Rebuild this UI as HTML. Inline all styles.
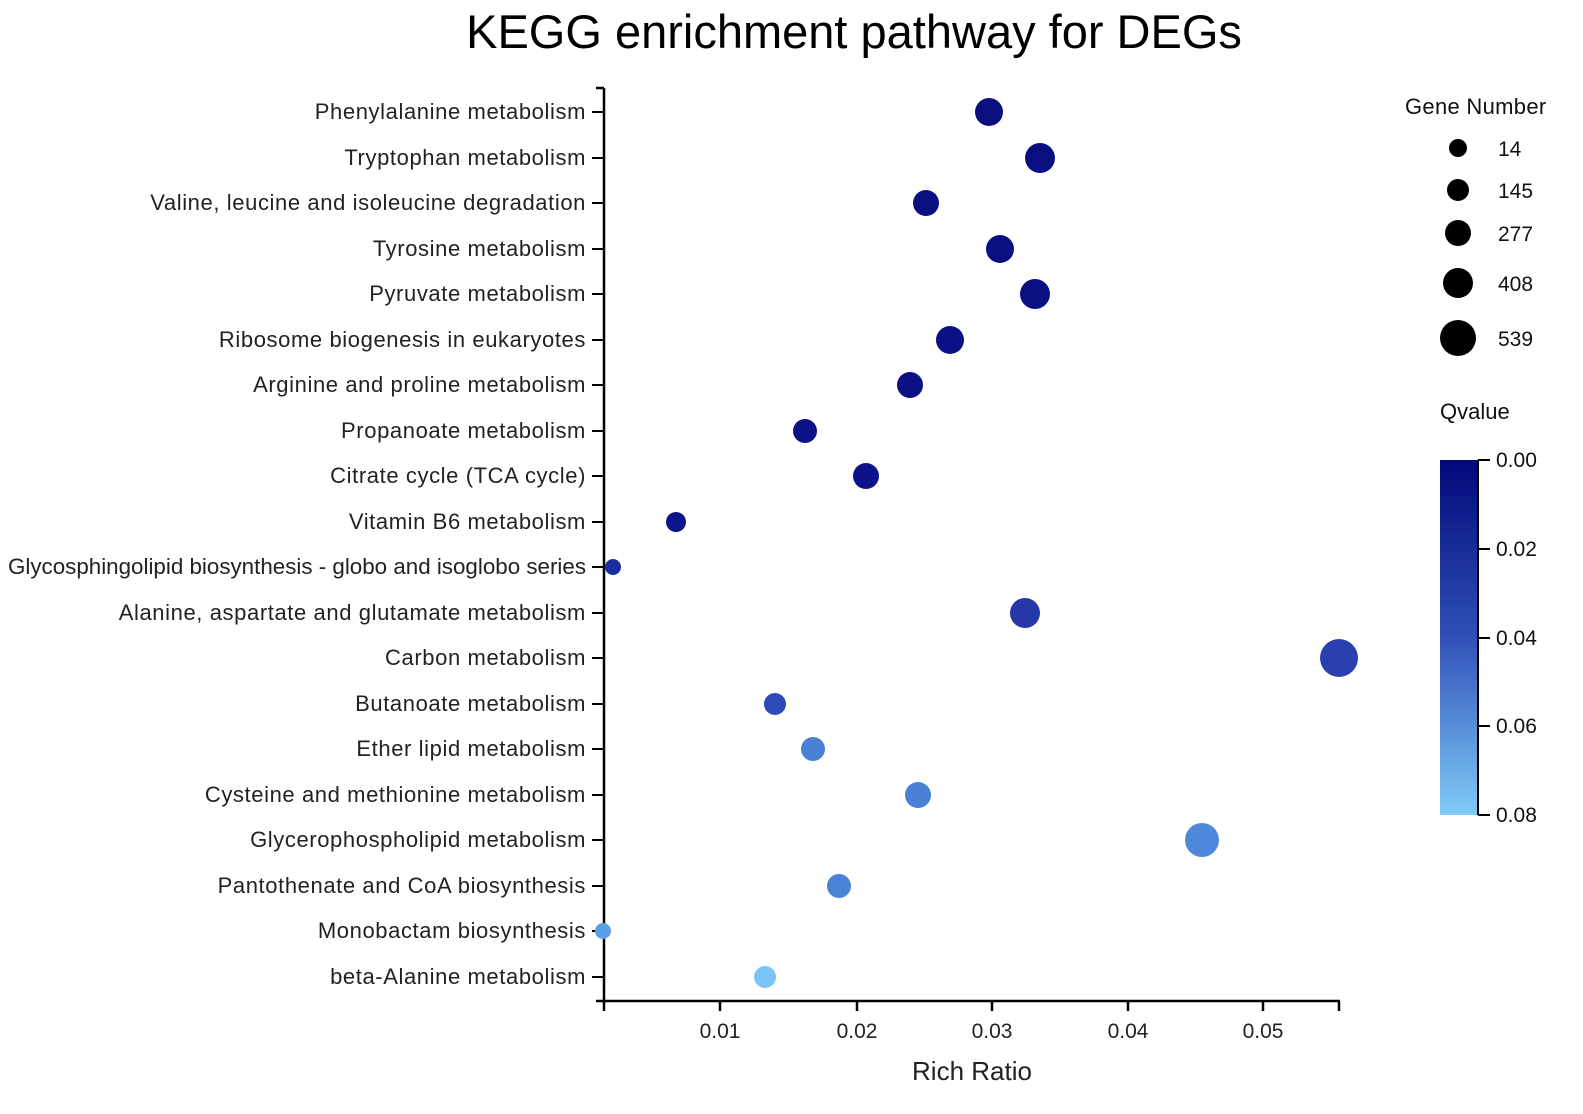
<!DOCTYPE html>
<html><head><meta charset="utf-8"><style>body{margin:0;background:#fff}</style></head><body>
<svg width="1583" height="1109" xmlns="http://www.w3.org/2000/svg" font-family="Liberation Sans, sans-serif">
<defs><linearGradient id="g" x1="0" y1="0" x2="0" y2="1"><stop offset="0" stop-color="#00087a"/><stop offset="0.5" stop-color="#3050b8"/><stop offset="1" stop-color="#80ccf8"/></linearGradient></defs>
<text x="854" y="48" font-size="47" text-anchor="middle" fill="#000">KEGG enrichment pathway for DEGs</text>
<g stroke="#000" stroke-width="2.5" fill="none">
<line x1="604" y1="88" x2="604" y2="1001"/><line x1="596" y1="88" x2="604" y2="88"/>
<line x1="596" y1="1001" x2="1340" y2="1001"/>
<line x1="604" y1="1001" x2="604" y2="1011"/><line x1="720" y1="1001" x2="720" y2="1011"/><line x1="857" y1="1001" x2="857" y2="1011"/><line x1="992" y1="1001" x2="992" y2="1011"/><line x1="1128" y1="1001" x2="1128" y2="1011"/><line x1="1263" y1="1001" x2="1263" y2="1011"/><line x1="1339" y1="1001" x2="1339" y2="1011"/>
</g>
<g font-size="21" text-anchor="middle" fill="#222"><text x="720" y="1038">0.01</text><text x="857" y="1038">0.02</text><text x="992" y="1038">0.03</text><text x="1128" y="1038">0.04</text><text x="1263" y="1038">0.05</text></g>
<text x="972" y="1080" font-size="26" text-anchor="middle" fill="#222">Rich Ratio</text>
<g font-size="22" letter-spacing="0.6" text-anchor="end" fill="#222">
<text x="586" y="119">Phenylalanine metabolism</text>
<text x="586" y="165">Tryptophan metabolism</text>
<text x="586" y="210">Valine, leucine and isoleucine degradation</text>
<text x="586" y="256">Tyrosine metabolism</text>
<text x="586" y="301">Pyruvate metabolism</text>
<text x="586" y="347">Ribosome biogenesis in eukaryotes</text>
<text x="586" y="392">Arginine and proline metabolism</text>
<text x="586" y="438">Propanoate metabolism</text>
<text x="586" y="483">Citrate cycle (TCA cycle)</text>
<text x="586" y="529">Vitamin B6 metabolism</text>
<text x="586" y="574" letter-spacing="0" textLength="578" lengthAdjust="spacingAndGlyphs">Glycosphingolipid biosynthesis - globo and isoglobo series</text>
<text x="586" y="620">Alanine, aspartate and glutamate metabolism</text>
<text x="586" y="665">Carbon metabolism</text>
<text x="586" y="711">Butanoate metabolism</text>
<text x="586" y="756">Ether lipid metabolism</text>
<text x="586" y="802">Cysteine and methionine metabolism</text>
<text x="586" y="847">Glycerophospholipid metabolism</text>
<text x="586" y="893">Pantothenate and CoA biosynthesis</text>
<text x="586" y="938">Monobactam biosynthesis</text>
<text x="586" y="984">beta-Alanine metabolism</text>
</g>
<g stroke="#000" stroke-width="2">
<line x1="592" y1="112" x2="604" y2="112"/><line x1="592" y1="158" x2="604" y2="158"/><line x1="592" y1="203" x2="604" y2="203"/><line x1="592" y1="249" x2="604" y2="249"/><line x1="592" y1="294" x2="604" y2="294"/><line x1="592" y1="340" x2="604" y2="340"/><line x1="592" y1="385" x2="604" y2="385"/><line x1="592" y1="431" x2="604" y2="431"/><line x1="592" y1="476" x2="604" y2="476"/><line x1="592" y1="522" x2="604" y2="522"/><line x1="592" y1="567" x2="604" y2="567"/><line x1="592" y1="613" x2="604" y2="613"/><line x1="592" y1="658" x2="604" y2="658"/><line x1="592" y1="704" x2="604" y2="704"/><line x1="592" y1="749" x2="604" y2="749"/><line x1="592" y1="795" x2="604" y2="795"/><line x1="592" y1="840" x2="604" y2="840"/><line x1="592" y1="886" x2="604" y2="886"/><line x1="592" y1="931" x2="604" y2="931"/><line x1="592" y1="977" x2="604" y2="977"/>
</g>
<g>
<circle cx="989" cy="112" r="14" fill="#0a0f80"/>
<circle cx="1040" cy="158" r="15" fill="#0a0f80"/>
<circle cx="926" cy="203" r="13" fill="#0a1082"/>
<circle cx="1000" cy="249" r="14" fill="#0a1082"/>
<circle cx="1035" cy="294" r="15" fill="#0a1082"/>
<circle cx="950" cy="340" r="14" fill="#0b1184"/>
<circle cx="910" cy="385" r="13" fill="#0b1184"/>
<circle cx="805" cy="431" r="12" fill="#0c1286"/>
<circle cx="866" cy="476" r="13" fill="#0c1388"/>
<circle cx="676" cy="522" r="10" fill="#0d158a"/>
<circle cx="613" cy="567" r="8" fill="#1a2ea0"/>
<circle cx="1025" cy="613" r="15" fill="#2637a8"/>
<circle cx="1339" cy="658" r="19" fill="#2a40b0"/>
<circle cx="775" cy="704" r="11" fill="#2e4ab6"/>
<circle cx="813" cy="749" r="12" fill="#4a80d6"/>
<circle cx="918" cy="795" r="13" fill="#4a80d8"/>
<circle cx="1202" cy="840" r="17" fill="#5088dc"/>
<circle cx="839" cy="886" r="12" fill="#4a82d6"/>
<circle cx="603" cy="931" r="8" fill="#5aa0e6"/>
<circle cx="765" cy="977" r="11" fill="#7cc4f5"/>
</g>
<text x="1405" y="114" font-size="22" letter-spacing="0.3" fill="#111">Gene Number</text>
<g fill="#000"><circle cx="1458" cy="148" r="9"/><circle cx="1458" cy="190" r="11"/><circle cx="1458" cy="233" r="13"/><circle cx="1458" cy="283" r="15"/><circle cx="1458" cy="338" r="18"/></g>
<g font-size="21" fill="#111"><text x="1498" y="156">14</text><text x="1498" y="198">145</text><text x="1498" y="241">277</text><text x="1498" y="291">408</text><text x="1498" y="346">539</text></g>
<text x="1440" y="419" font-size="22" fill="#111">Qvalue</text>
<rect x="1440" y="460" width="38" height="355" fill="url(#g)"/>
<g stroke="#000" stroke-width="2"><line x1="1478" y1="460" x2="1478" y2="815"/><line x1="1478" y1="460" x2="1490" y2="460"/><line x1="1478" y1="549" x2="1490" y2="549"/><line x1="1478" y1="638" x2="1490" y2="638"/><line x1="1478" y1="726" x2="1490" y2="726"/><line x1="1478" y1="815" x2="1490" y2="815"/></g>
<g font-size="21" fill="#111"><text x="1496" y="467">0.00</text><text x="1496" y="556">0.02</text><text x="1496" y="645">0.04</text><text x="1496" y="733">0.06</text><text x="1496" y="822">0.08</text></g>
</svg>
</body></html>
